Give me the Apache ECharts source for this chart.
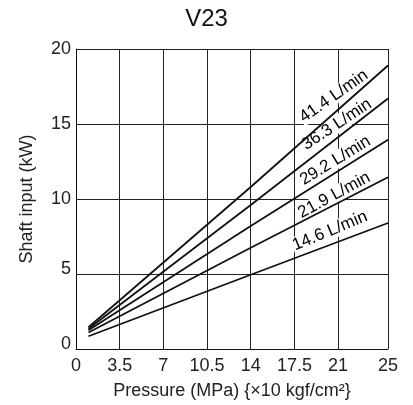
<!DOCTYPE html>
<html><head><meta charset="utf-8">
<script src="https://cdn.jsdelivr.net/npm/echarts@6/dist/echarts.min.js"></script>
<style>html,body{margin:0;padding:0;background:#fff}#c{width:413px;height:405px}</style>
</head><body><div id="c"></div>
<script>
// ---- data ----
const titleText = 'V23';
const xAxisName = 'Pressure (MPa) {×10 kgf/cm²}';
const yAxisName = 'Shaft input (kW)';
const xTicks = [0, 3.5, 7, 10.5, 14, 17.5, 21, 25];
const yTicks = [0, 5, 10, 15, 20];
const seriesNames = ['41.4 L/min', '36.3 L/min', '29.2 L/min', '21.9 L/min', '14.6 L/min'];
const pressure = [1, 14, 25];
const flow41_4 = [1.45, 10.8, 18.9];
const flow36_3 = [1.35, 9.6, 16.7];
const flow29_2 = [1.25, 8.2, 13.95];
const flow21_9 = [1.1, 6.75, 11.45];
const flow14_6 = [0.85, 4.95, 8.4];
const seriesValues = [flow41_4, flow36_3, flow29_2, flow21_9, flow14_6];

// ---- layout (label anchors in axis units, rotation in degrees) ----
const labelAnchorX = [20.65, 20.90, 20.78, 20.69, 20.35];
const labelAnchorY = [16.85, 14.97, 12.56, 10.25, 7.86];
const labelRotate = [35, 33.5, 31.5, 28.5, 22.5];
const FONT = '"Liberation Sans", Arial, Helvetica, sans-serif';

const chart = echarts.init(document.getElementById('c'), null, {renderer: 'canvas'});
const option = {
  animation: false,
  backgroundColor: '#fff',
  title: {text: titleText, left: 'center', top: 2,
    textStyle: {fontFamily: FONT, fontSize: 24, fontWeight: 'normal', color: '#111'}},
  grid: {left: 76, right: 25, top: 49, bottom: 52},
  xAxis: {
    type: 'value', min: 0, max: 25,
    name: xAxisName, nameLocation: 'middle', nameGap: 33,
    nameTextStyle: {fontFamily: FONT, fontSize: 18, color: '#222'},
    axisLine: {show: true, lineStyle: {color: '#111', width: 1}},
    axisTick: {show: false, customValues: xTicks},
    axisLabel: {customValues: xTicks, margin: 8, fontFamily: FONT, fontSize: 18, color: '#222'},
    splitLine: {show: true, lineStyle: {color: '#222', width: 1}}
  },
  yAxis: {
    type: 'value', min: 0, max: 20, interval: 5,
    name: yAxisName, nameLocation: 'middle', nameGap: 40,
    nameTextStyle: {fontFamily: FONT, fontSize: 18, color: '#222'},
    axisLine: {show: true, lineStyle: {color: '#111', width: 1}},
    axisTick: {show: false},
    axisLabel: {margin: 5, fontFamily: FONT, fontSize: 18, color: '#222',
      formatter: v => (v === 0 || v === 5) ? '{lo|' + v + '}' : '{n|' + v + '}',
      rich: {lo: {fontFamily: FONT, fontSize: 18, color: '#222', padding: [0, 0, 10, 0]},
             n: {fontFamily: FONT, fontSize: 18, color: '#222'}}},
    splitLine: {show: true, lineStyle: {color: '#222', width: 1}}
  },
  series: seriesValues.map((vals, i) => ({
    name: seriesNames[i], type: 'line', showSymbol: false, symbol: 'none',
    data: pressure.map((p, j) => [p, vals[j]]),
    lineStyle: {color: '#111', width: 1.8}, z: 4,
    markPoint: {
      symbol: 'circle', symbolSize: 0, silent: true, z: 1,
      data: [{coord: [labelAnchorX[i], labelAnchorY[i]], value: 0}],
      label: {show: true, position: 'inside', formatter: seriesNames[i],
        rotate: labelRotate[i], color: '#000', fontFamily: FONT, fontSize: 17,
        textBorderWidth: 0, backgroundColor: '#fff', padding: [0, 1]}
    }
  }))
};
chart.setOption(option);
</script>
</body></html>
